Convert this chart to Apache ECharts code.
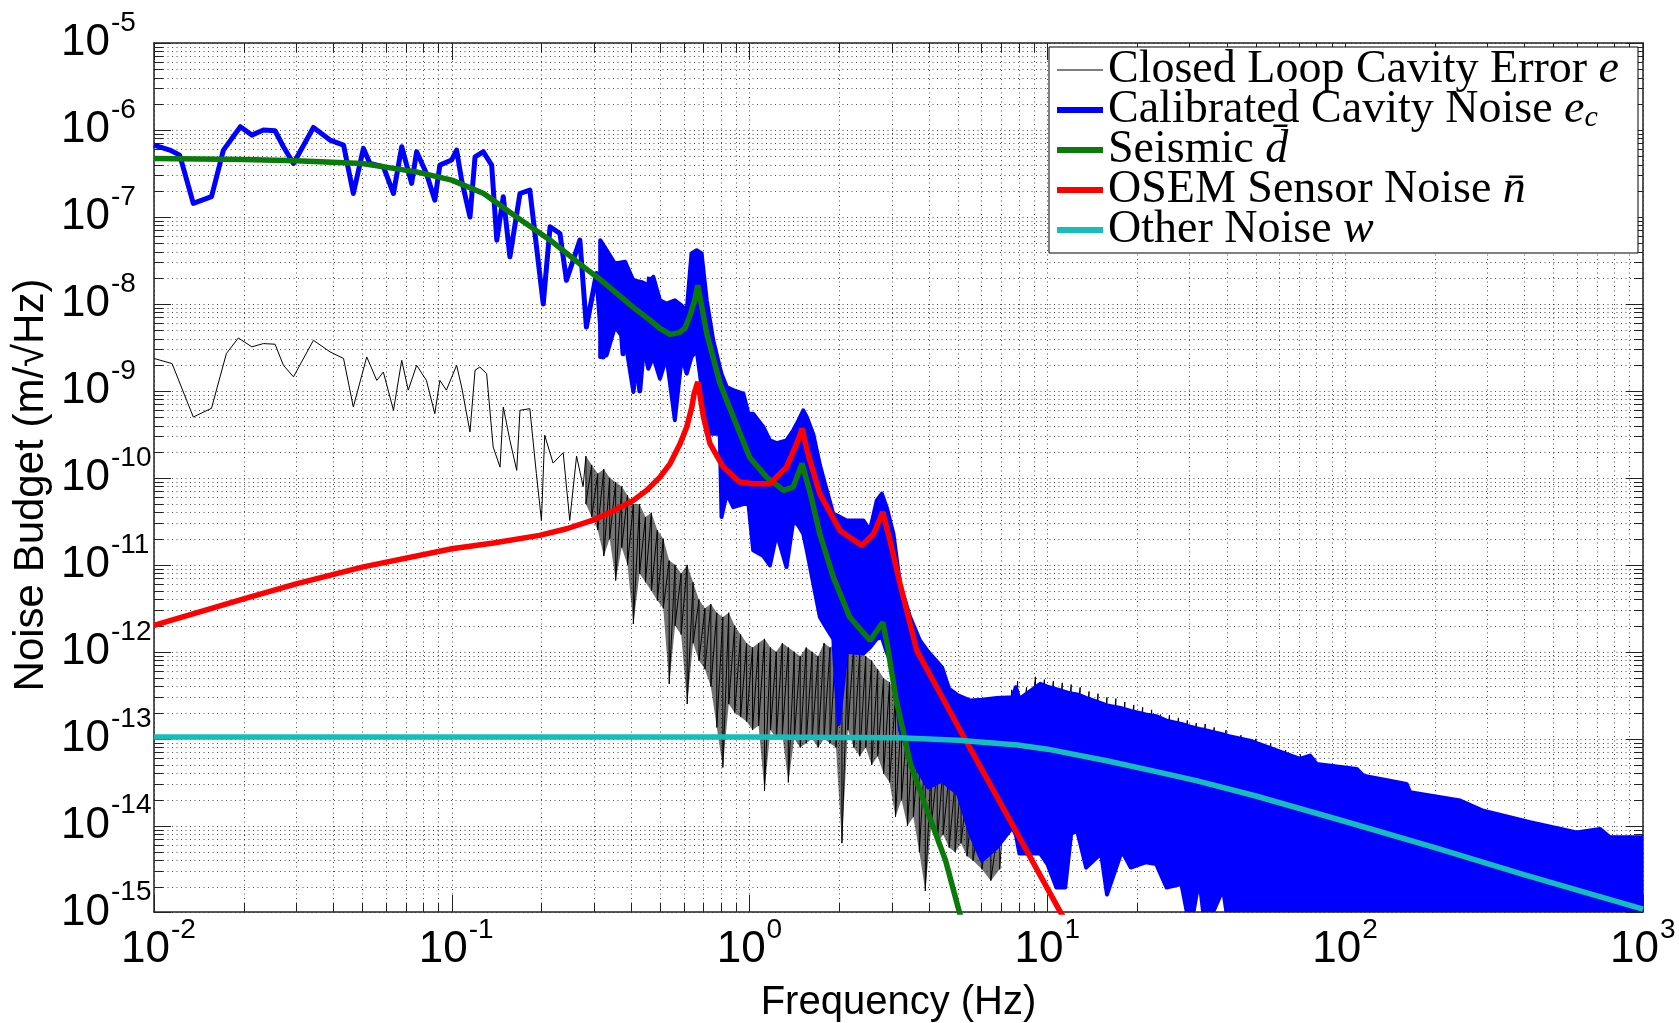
<!DOCTYPE html>
<html>
<head>
<meta charset="utf-8">
<title>Noise budget</title>
<script src="https://cdn.jsdelivr.net/npm/echarts@6/dist/echarts.min.js"></script>
<style>
  html, body { margin: 0; padding: 0; background: #fff; }
  #chart { width: 1679px; height: 1023px; }
</style>
</head>
<body>
<div id="chart"></div>
<script>
// frequency in Hz, amplitude in m/sqrt(Hz)

// calibrated cavity noise e_c, low-frequency part (thick line)
const ecLowFreq = [0.01, 0.0113, 0.0122, 0.01355, 0.0156, 0.0171, 0.0195, 0.0213, 0.0233, 0.0255, 0.0272, 0.0294, 0.0343, 0.039, 0.0433, 0.0467, 0.0505, 0.0531, 0.0589, 0.0637, 0.0679, 0.0733, 0.0762, 0.0822, 0.0877, 0.0912, 0.0998, 0.1038, 0.1079, 0.1151, 0.1197, 0.1276, 0.1361, 0.1416, 0.1489, 0.1567, 0.1694, 0.1828, 0.2028, 0.2138, 0.2307, 0.2427, 0.2692, 0.2831, 0.3062, 0.3221, 0.3573, 0.3758, 0.4055, 0.4276, 0.4613];
const ecLowVal = [6.7e-7, 5.87e-7, 5.14e-7, 1.43e-7, 1.71e-7, 5.87e-7, 1.09e-6, 8.73e-7, 9.98e-7, 9.79e-7, 6.41e-7, 4.12e-7, 1.07e-6, 7.66e-7, 6.7e-7, 1.86e-7, 6.14e-7, 4.12e-7, 3.78e-7, 1.86e-7, 6.41e-7, 2.43e-7, 5.62e-7, 3.16e-7, 1.56e-7, 3.94e-7, 4.51e-7, 5.87e-7, 2.65e-7, 1.0e-7, 4.92e-7, 5.62e-7, 3.94e-7, 5.41e-8, 1.71e-7, 3.48e-8, 1.86e-7, 2.04e-7, 1.0e-8, 7.71e-8, 6.46e-8, 1.87e-8, 5.41e-8, 5.43e-9, 2.24e-8, 2.45e-9, 2.92e-8, 2.67e-9, 1.87e-8, 1.0e-9, 2.05e-8];

// e_c above ~0.3 Hz: upper and lower edge of the noisy band
const ecBandFreq = [0.315, 0.331, 0.353, 0.382, 0.407, 0.435, 0.457, 0.475, 0.5, 0.526, 0.561, 0.592, 0.615, 0.638, 0.664, 0.69, 0.718, 0.755, 0.794, 0.805, 0.838, 0.881, 0.953, 0.991, 1.028, 1.112, 1.17, 1.233, 1.33, 1.403, 1.459, 1.514, 1.556, 1.637, 1.722, 1.791, 1.91, 1.991, 2.118, 2.41, 2.535, 2.673, 2.78, 2.884, 3.041, 3.199, 3.459, 3.733, 3.981, 4.426, 4.677, 5.012, 5.508, 6.026, 6.761, 7.621, 7.834, 8.054, 9.462, 10, 10.72, 11.48, 12.02, 12.59, 13.49, 15.14, 15.85, 17.78, 19.05, 21.38, 23.17, 25.12, 28.18, 30.2, 32.36, 33.88, 38.9, 40.74, 47.86, 70.47, 76.2, 80.2, 109.4, 115.1, 160.7, 165.2, 243.2, 291.1, 417.8, 598.4, 717.8, 774.5, 1000];
const ecBandTop = [5.41e-8, 4.15e-8, 2.91e-8, 3.05e-8, 1.87e-8, 1.78e-8, 1.64e-8, 2.05e-8, 1.10e-8, 1.01e-8, 1.10e-8, 9.55e-9, 8.47e-9, 3.80e-8, 4.15e-8, 3.80e-8, 1.10e-8, 3.82e-9, 1.88e-9, 1.58e-9, 1.11e-9, 1.02e-9, 9.29e-10, 5.47e-10, 5.47e-10, 3.85e-10, 2.70e-10, 2.51e-10, 2.70e-10, 3.55e-10, 4.59e-10, 5.98e-10, 5.01e-10, 3.16e-10, 1.41e-10, 8.57e-11, 3.87e-11, 3.63e-11, 3.24e-11, 3.24e-11, 2.49e-11, 5.51e-11, 6.58e-11, 4.61e-11, 2.28e-11, 6.05e-12, 2.51e-12, 1.35e-12, 1.0e-12, 6.65e-13, 3.75e-13, 3.16e-13, 2.75e-13, 2.82e-13, 2.95e-13, 3.01e-13, 3.92e-13, 2.88e-13, 4.28e-13, 3.98e-13, 3.72e-13, 3.47e-13, 3.31e-13, 3.24e-13, 2.95e-13, 2.57e-13, 2.41e-13, 2.24e-13, 2.09e-13, 1.91e-13, 1.82e-13, 1.62e-13, 1.48e-13, 1.38e-13, 1.30e-13, 1.26e-13, 1.12e-13, 1.07e-13, 9.53e-14, 5.86e-14, 6.41e-14, 5.14e-14, 4.50e-14, 3.77e-14, 3.03e-14, 2.43e-14, 1.95e-14, 1.49e-14, 1.10e-14, 8.39e-15, 9.18e-15, 7.36e-15, 7.36e-15];
const ecBandBot = [2.45e-9, 2.57e-9, 5.45e-9, 3.82e-9, 9.72e-10, 3.82e-9, 1.80e-9, 2.45e-9, 1.38e-9, 2.45e-9, 4.59e-10, 2.45e-9, 1.58e-9, 2.45e-9, 2.93e-9, 1.11e-9, 3.22e-10, 3.22e-10, 3.22e-10, 3.55e-11, 6.58e-11, 4.61e-11, 5.01e-11, 5.05e-11, 1.47e-11, 1.26e-11, 9.84e-12, 2.28e-11, 9.42e-12, 3.24e-11, 2.82e-11, 2.28e-11, 1.47e-11, 6.05e-12, 2.51e-12, 2.0e-12, 1.41e-12, 1.48e-13, 1.0e-12, 9.55e-13, 1.12e-12, 1.41e-12, 1.48e-12, 1.0e-12, 6.61e-13, 1.26e-13, 6.31e-14, 3.98e-14, 2.75e-14, 3.31e-14, 2.82e-14, 2.34e-14, 8.13e-15, 3.98e-15, 5.62e-15, 9.55e-15, 7.94e-15, 4.79e-15, 4.79e-15, 3.63e-15, 1.95e-15, 1.95e-15, 8.13e-15, 8.71e-15, 3.31e-15, 4.79e-15, 1.62e-15, 5.13e-15, 3.31e-15, 3.80e-15, 3.63e-15, 1.95e-15, 2.14e-15, 6.3e-16, 2.45e-15, 6.3e-16, 1.86e-15, 6.3e-16, 6.3e-16, 6.3e-16, 6.3e-16, 6.3e-16, 6.3e-16, 6.3e-16, 6.3e-16, 6.3e-16, 6.3e-16, 6.3e-16, 6.3e-16, 6.3e-16, 6.3e-16, 6.3e-16, 6.3e-16];

// closed loop cavity error e, low-frequency part (thin line)
const eLowFreq = [0.01, 0.0115, 0.01355, 0.0156, 0.0175, 0.0192, 0.0213, 0.0233, 0.0255, 0.0272, 0.0294, 0.0343, 0.039, 0.0433, 0.0467, 0.0518, 0.056, 0.0589, 0.0637, 0.0679, 0.0714, 0.0762, 0.0822, 0.0877, 0.0912, 0.0959, 0.1038, 0.1079, 0.1151, 0.1197, 0.1242, 0.1309, 0.1377, 0.1452, 0.1489, 0.1567, 0.1652, 0.1694, 0.1828, 0.1923, 0.2, 0.2051, 0.2188, 0.2366, 0.2489, 0.2624, 0.2761];
const eLowVal = [2.36e-9, 2.06e-9, 5.01e-10, 6.31e-10, 2.69e-9, 4.06e-9, 3.21e-9, 3.5e-9, 3.44e-9, 1.97e-9, 1.45e-9, 3.82e-9, 2.81e-9, 2.36e-9, 6.53e-10, 2.46e-9, 1.32e-9, 1.65e-9, 5.98e-10, 2.25e-9, 1.02e-9, 1.97e-9, 1.32e-9, 5.47e-10, 1.32e-9, 1.02e-9, 1.97e-9, 1.11e-9, 3.37e-10, 1.73e-9, 1.88e-9, 1.58e-9, 2.26e-10, 1.33e-10, 6.53e-10, 2.7e-10, 1.22e-10, 5.98e-10, 6.25e-10, 1.12e-10, 3.24e-11, 3.09e-10, 1.48e-10, 1.95e-10, 3.24e-11, 1.78e-10, 7.94e-11];

// e above ~0.28 Hz: top and bottom of each noise stroke
const eBandFreq = [0.282, 0.295, 0.309, 0.324, 0.339, 0.355, 0.372, 0.389, 0.407, 0.427, 0.447, 0.468, 0.49, 0.513, 0.537, 0.562, 0.589, 0.617, 0.646, 0.676, 0.708, 0.741, 0.776, 0.813, 0.851, 0.891, 0.933, 0.977, 1.023, 1.072, 1.122, 1.175, 1.23, 1.288, 1.349, 1.413, 1.479, 1.549, 1.622, 1.698, 1.778, 1.862, 1.95, 2.042, 2.138, 2.239, 2.344, 2.455, 2.57, 2.692, 2.818, 2.951, 3.09, 3.236, 3.388, 3.548, 3.715, 3.89, 4.074, 4.266, 4.467, 4.677, 4.898, 5.129, 5.37, 5.623, 6.026, 6.457, 6.918, 7.586, 7.943, 8.511, 9.12, 9.772, 10.47, 11.22, 12.02, 12.88, 13.8, 14.79, 15.85, 16.98, 18.2, 19.5, 20.89, 22.39, 23.99, 25.7, 27.54, 29.51, 31.62, 33.88, 36.31, 39.81, 44.67, 50.12, 56.23, 63.1, 70.79];
const eBandTop = [1.78e-10, 1.41e-10, 1.12e-10, 1.26e-10, 1.0e-10, 8.91e-11, 7.94e-11, 6.31e-11, 5.01e-11, 5.01e-11, 3.55e-11, 3.98e-11, 2.51e-11, 2.0e-11, 1.12e-11, 1.0e-11, 7.94e-12, 1.0e-11, 6.31e-12, 3.98e-12, 3.16e-12, 3.55e-12, 2.82e-12, 2.51e-12, 2.82e-12, 2.0e-12, 1.58e-12, 1.26e-12, 1.12e-12, 1.26e-12, 1.41e-12, 1.12e-12, 1.0e-12, 1.26e-12, 1.12e-12, 1.0e-12, 8.91e-13, 1.12e-12, 1.0e-12, 8.91e-13, 1.26e-12, 1.12e-12, 1.26e-12, 1.12e-12, 1.0e-12, 1.26e-12, 1.0e-12, 8.91e-13, 7.94e-13, 6.31e-13, 5.01e-13, 4.47e-13, 3.16e-13, 2.0e-13, 1.58e-13, 1.26e-13, 1.0e-13, 7.94e-14, 5.01e-14, 4.47e-14, 5.01e-14, 3.98e-14, 3.16e-14, 3.55e-14, 2.51e-14, 2.0e-14, 1.78e-14, 1.58e-14, 1.26e-14, 3.65e-13, 4.6e-13, 3.9e-13, 5.15e-13, 4.8e-13, 4.6e-13, 4.4e-13, 4.2e-13, 3.9e-13, 3.5e-13, 3.3e-13, 3.0e-13, 2.9e-13, 2.65e-13, 2.45e-13, 2.3e-13, 2.15e-13, 1.9e-13, 1.87e-13, 1.74e-13, 1.63e-13, 1.52e-13, 1.48e-13, 1.35e-13, 1.26e-13, 1.1e-13, 1.0e-13, 8.9e-14, 7.4e-14, 6.6e-14];
const eBandBot = [5.01e-11, 3.55e-11, 2.51e-11, 1.26e-11, 2.0e-11, 6.61e-12, 1.58e-11, 1.0e-11, 2.09e-12, 7.94e-12, 6.31e-12, 5.01e-12, 3.89e-12, 3.16e-12, 4.27e-13, 2.0e-12, 1.58e-12, 2.51e-13, 1.26e-12, 7.94e-13, 6.31e-13, 3.98e-13, 1.35e-13, 4.68e-14, 2.51e-13, 2.0e-13, 1.78e-13, 1.58e-13, 1.26e-13, 1.41e-13, 2.51e-14, 1.26e-13, 1.0e-13, 1.12e-13, 3.16e-14, 1.0e-13, 7.94e-14, 8.91e-14, 1.0e-13, 7.94e-14, 1.0e-13, 8.91e-14, 7.94e-14, 6.31e-15, 1.26e-13, 7.94e-14, 6.31e-14, 7.94e-14, 5.01e-14, 6.31e-14, 3.98e-14, 3.16e-14, 1.26e-14, 2.0e-14, 1.0e-14, 1.26e-14, 5.01e-15, 1.78e-15, 1.0e-14, 6.31e-15, 7.94e-15, 5.62e-15, 5.01e-15, 6.31e-15, 4.47e-15, 3.98e-15, 3.16e-15, 2.34e-15, 3.16e-15, 5.01e-14, 6.31e-14, 6.31e-14, 5.01e-14, 5.01e-14, 5.01e-14, 5.01e-14, 3.98e-14, 3.98e-14, 3.98e-14, 3.98e-14, 3.16e-14, 3.16e-14, 3.16e-14, 3.16e-14, 2.51e-14, 2.51e-14, 2.51e-14, 2.0e-14, 2.0e-14, 2.0e-14, 1.58e-14, 1.58e-14, 1.58e-14, 1.26e-14, 1.26e-14, 1.0e-14, 1.0e-14, 7.94e-15, 7.94e-15];

// seismic d
const seismicFreq = [0.01, 0.02, 0.03, 0.05, 0.076, 0.1, 0.128, 0.165, 0.214, 0.277, 0.315, 0.358, 0.407, 0.464, 0.5, 0.541, 0.58, 0.607, 0.631, 0.655, 0.67, 0.718, 0.796, 0.882, 1.0, 1.14, 1.3, 1.4, 1.5, 1.6, 1.72, 1.91, 2.17, 2.54, 2.8, 2.9, 3.11, 3.47, 3.98, 4.55, 5.07, 5.3];
const seismicVal = [4.7e-7, 4.58e-7, 4.42e-7, 4.12e-7, 3.3e-7, 2.65e-7, 1.86e-7, 1.0e-7, 5.41e-8, 2.67e-8, 1.91e-8, 1.32e-8, 9.12e-9, 6.46e-9, 5.25e-9, 4.47e-9, 4.68e-9, 5.25e-9, 7.41e-9, 1.12e-8, 1.64e-8, 4.56e-9, 1.21e-9, 5.01e-10, 1.73e-10, 1.02e-10, 7.18e-11, 7.83e-11, 1.46e-10, 6.58e-11, 2.28e-11, 7.23e-12, 2.5e-12, 1.35e-12, 2.19e-12, 1.2e-12, 2.75e-13, 5.13e-14, 1.38e-14, 3.98e-15, 1.0e-15, 6.0e-16];

// OSEM sensor noise n
const osemFreq = [0.01, 0.02, 0.03, 0.05, 0.1, 0.138, 0.197, 0.243, 0.296, 0.35, 0.407, 0.451, 0.5, 0.541, 0.584, 0.615, 0.64, 0.651, 0.67, 0.7, 0.736, 0.816, 0.925, 1.03, 1.17, 1.33, 1.44, 1.5, 1.57, 1.72, 2.01, 2.38, 2.61, 2.8, 2.96, 3.2, 3.64, 5.24, 7.3, 11.0, 12.0];
const osemVal = [2.01e-12, 4.07e-12, 6.05e-12, 9.42e-12, 1.53e-11, 1.78e-11, 2.18e-11, 2.6e-11, 3.24e-11, 4.2e-11, 5.51e-11, 7.18e-11, 1.02e-10, 1.46e-10, 2.47e-10, 3.85e-10, 6.53e-10, 9.3e-10, 1.27e-9, 5.01e-10, 2.47e-10, 1.33e-10, 8.95e-11, 8.57e-11, 8.57e-11, 1.33e-10, 2.47e-10, 3.68e-10, 1.9e-10, 6.58e-11, 2.49e-11, 1.67e-11, 2.28e-11, 4.05e-11, 1.91e-11, 6.05e-12, 1.04e-12, 1.05e-13, 1.35e-14, 1.05e-15, 6.5e-16];

// other noise w
const otherFreq = [0.01, 1, 3.16, 5.01, 7.94, 10, 15.8, 22.4, 31.6, 50.1, 100, 200, 398, 1000];
const otherVal = [1.05e-13, 1.05e-13, 1.03e-13, 9.6e-14, 8.5e-14, 7.6e-14, 5.6e-14, 4.3e-14, 3.3e-14, 2.2e-14, 1.12e-14, 5.6e-15, 2.75e-15, 1.1e-15];

// tick labels: 10 raised to these powers
const xTickVals = [0.01, 0.1, 1, 10, 100, 1000];
const xTickExp = ['-2', '-1', '0', '1', '2', '3'];
const yTickVals = [1e-15, 1e-14, 1e-13, 1e-12, 1e-11, 1e-10, 1e-9, 1e-8, 1e-7, 1e-6, 1e-5];
const yTickExp = ['-15', '-14', '-13', '-12', '-11', '-10', '-9', '-8', '-7', '-6', '-5'];

// axis ranges
const xRange = [0.01, 1000];
const yRange = [1.02e-15, 1e-5];

const names = ['Closed Loop Cavity Error e', 'Calibrated Cavity Noise e_c', 'Seismic d', 'OSEM Sensor Noise n', 'Other Noise w'];
const legendText = {
  'Closed Loop Cavity Error e': '{t|Closed Loop Cavity Error }{i|e}',
  'Calibrated Cavity Noise e_c': '{t|Calibrated Cavity Noise }{i|e}{sub|c}',
  'Seismic d': '{t|Seismic }{i|d\u0304}',
  'OSEM Sensor Noise n': '{t|OSEM Sensor Noise }{i|n\u0304}',
  'Other Noise w': '{t|Other Noise }{i|w}'
};

const sans = 'Liberation Sans';
const serif = 'Liberation Serif';
const axisColor = '#222';
const dotColor = 'rgba(0,0,0,0.7)';
const dots = [1, 3.5];

const pair = (fs, vs) => fs.map((f, i) => [f, vs[i]]);

// e: clean line, then one vertical stroke per noise sample
const eData = pair(eLowFreq, eLowVal);
eBandFreq.forEach((f, i) => { eData.push([f, eBandTop[i]], [f, eBandBot[i]]); });

// minor grid at 2..9 of each decade
const minorX = [];
const minorY = [];
for (let d = -2; d < 3; d++) for (let k = 2; k < 10; k++) minorX.push(k * Math.pow(10, d));
for (let d = -15; d < -5; d++) for (let k = 2; k < 10; k++) minorY.push(k * Math.pow(10, d));

function minorXItem(params, api) {
  const cs = params.coordSys;
  const x = Math.round(api.coord([api.value(0), 1e-10])[0]) + 0.5;
  const top = cs.y;
  const bottom = cs.y + cs.height;
  return {
    type: 'group',
    children: [
      { type: 'line', shape: { x1: x, y1: top, x2: x, y2: bottom }, style: { stroke: dotColor, lineWidth: 1, lineDash: dots } },
      { type: 'line', shape: { x1: x, y1: bottom, x2: x, y2: bottom - 9 }, style: { stroke: axisColor, lineWidth: 1 } },
      { type: 'line', shape: { x1: x, y1: top, x2: x, y2: top + 9 }, style: { stroke: axisColor, lineWidth: 1 } }
    ]
  };
}

function minorYItem(params, api) {
  const cs = params.coordSys;
  const y = Math.round(api.coord([1, api.value(1)])[1]) + 0.5;
  const left = cs.x;
  const right = cs.x + cs.width;
  return {
    type: 'group',
    children: [
      { type: 'line', shape: { x1: left, y1: y, x2: right, y2: y }, style: { stroke: dotColor, lineWidth: 1, lineDash: dots } },
      { type: 'line', shape: { x1: left, y1: y, x2: left + 9, y2: y }, style: { stroke: axisColor, lineWidth: 1 } },
      { type: 'line', shape: { x1: right, y1: y, x2: right - 9, y2: y }, style: { stroke: axisColor, lineWidth: 1 } }
    ]
  };
}

// "10" with a raised exponent, joined at (jx, y)
function powText(jx, y, exp, dy) {
  return [
    { type: 'text', x: jx, y: y, style: { text: '10', fontFamily: sans, fontSize: 44, fill: '#000', align: 'right', verticalAlign: 'middle' } },
    { type: 'text', x: jx + 1, y: y - dy, style: { text: exp, fontFamily: sans, fontSize: 28, fill: '#000', align: 'left', verticalAlign: 'middle' } }
  ];
}

function xLabelItem(params, api) {
  const cs = params.coordSys;
  const i = api.value(2);
  const x = api.coord([xTickVals[i], 1e-10])[0];
  return { type: 'group', children: powText(x + 16, cs.y + cs.height + 38, xTickExp[i], 20) };
}

function yLabelItem(params, api) {
  const i = api.value(2);
  const y = api.coord([1, yTickVals[i]])[1];
  return { type: 'group', children: powText(110, y, yTickExp[i], 20) };
}

// filled band between an upper and a lower edge
function bandPoints(api, fs, tops, bots, n) {
  const pts = [];
  for (let i = 0; i < n; i++) pts.push(api.coord([fs[i], tops[i]]));
  for (let i = n - 1; i >= 0; i--) pts.push(api.coord([fs[i], bots[i]]));
  return pts;
}

function ecBandItem(params, api) {
  return {
    type: 'polygon',
    shape: { points: bandPoints(api, ecBandFreq, ecBandTop, ecBandBot, ecBandFreq.length) },
    style: { fill: '#0000ff', stroke: '#0000ff', lineWidth: 4, lineJoin: 'round' }
  };
}

// dense core of e between 0.28 and 7 Hz
function eBandItem(params, api) {
  return {
    type: 'polygon',
    shape: { points: bandPoints(api, eBandFreq, eBandTop, eBandBot, 69) },
    style: { fill: 'rgba(0,0,0,0.55)' }
  };
}

const logAxis = (extra) => Object.assign({
  type: 'log',
  logBase: 10,
  axisLine: { show: true, onZero: false, lineStyle: { color: axisColor, width: 1.5 } },
  axisTick: { show: true, inside: true, length: 17, lineStyle: { color: axisColor, width: 1 } },
  axisLabel: { show: false },
  minorTick: { show: false },
  splitLine: { show: true, lineStyle: { color: dotColor, width: 1, type: dots } }
}, extra);

const chart = echarts.init(document.getElementById('chart'));

chart.setOption({
  animation: false,
  backgroundColor: '#fff',
  grid: { left: 154, top: 43, width: 1489, height: 869, containLabel: false, outerBoundsMode: 'none' },
  xAxis: [
    logAxis({
      min: xRange[0], max: xRange[1], position: 'bottom',
      name: 'Frequency (Hz)', nameLocation: 'middle', nameGap: 71, nameMoveOverlap: false,
      nameTextStyle: { fontFamily: sans, fontSize: 40, color: '#000' }
    }),
    logAxis({ min: xRange[0], max: xRange[1], position: 'top', splitLine: { show: false } })
  ],
  yAxis: [
    logAxis({
      min: yRange[0], max: yRange[1], position: 'left',
      name: 'Noise Budget (m/\u221AHz)', nameLocation: 'middle', nameGap: 102, nameMoveOverlap: false,
      nameTextStyle: { fontFamily: sans, fontSize: 42, color: '#000', padding: [0, 15, 0, 0] }
    }),
    logAxis({ min: yRange[0], max: yRange[1], position: 'right', splitLine: { show: false } })
  ],
  legend: {
    orient: 'vertical',
    left: 1049,
    top: 47,
    padding: [0, 19, 0, 8],
    itemWidth: 46,
    itemHeight: 6,
    itemGap: -6,
    selectedMode: false,
    backgroundColor: '#fff',
    borderColor: '#000',
    borderWidth: 1,
    borderRadius: 0,
    itemStyle: { borderWidth: 0 },
    formatter: name => legendText[name],
    textStyle: {
      fontFamily: serif, fontSize: 46, color: '#000',
      rich: {
        t: { fontFamily: serif, fontSize: 46, color: '#000' },
        i: { fontFamily: serif, fontStyle: 'italic', fontSize: 46, color: '#000' },
        sub: { fontFamily: serif, fontStyle: 'italic', fontSize: 30, verticalAlign: 'bottom', color: '#000' }
      }
    },
    data: [
      { name: names[0], icon: 'path://M0,0H46V1H0Z' },
      { name: names[1], icon: 'path://M0,0H46V6H0Z' },
      { name: names[2], icon: 'path://M0,0H46V6H0Z' },
      { name: names[3], icon: 'path://M0,0H46V6H0Z' },
      { name: names[4], icon: 'path://M0,0H46V6H0Z' }
    ]
  },
  series: [
    {
      type: 'custom', z: 1, silent: true, clip: false,
      renderItem: minorXItem,
      data: minorX.map(v => [v, 1e-10])
    },
    {
      type: 'custom', z: 1, silent: true, clip: false,
      renderItem: minorYItem,
      data: minorY.map(v => [1, v])
    },
    {
      type: 'custom', z: 7, silent: true, clip: false,
      renderItem: xLabelItem,
      data: xTickVals.map((v, i) => [v, 1e-10, i])
    },
    {
      type: 'custom', z: 7, silent: true, clip: false,
      renderItem: yLabelItem,
      data: yTickVals.map((v, i) => [1, v, i])
    },
    {
      name: names[0], type: 'custom', z: 2, clip: true, silent: true,
      itemStyle: { color: '#000' },
      renderItem: eBandItem,
      data: [[eBandFreq[0], eBandTop[0]]]
    },
    {
      name: names[0], type: 'line', z: 2, symbol: 'none', showSymbol: false,
      color: '#000',
      itemStyle: { color: '#000' },
      lineStyle: { color: '#000', width: 1 },
      data: eData
    },
    {
      name: names[1], type: 'custom', z: 3, clip: true,
      itemStyle: { color: '#0000ff' },
      renderItem: ecBandItem,
      data: [[ecBandFreq[0], ecBandTop[0]]]
    },
    {
      name: names[1], type: 'line', z: 3, symbol: 'none', showSymbol: false,
      color: '#0000ff',
      itemStyle: { color: '#0000ff' },
      lineStyle: { color: '#0000ff', width: 5, join: 'round' },
      data: pair(ecLowFreq, ecLowVal)
    },
    {
      name: names[2], type: 'line', z: 4, symbol: 'none', showSymbol: false,
      color: '#0a7a0a',
      itemStyle: { color: '#0a7a0a' },
      lineStyle: { color: '#0a7a0a', width: 5.5 },
      data: pair(seismicFreq, seismicVal)
    },
    {
      name: names[3], type: 'line', z: 5, symbol: 'none', showSymbol: false,
      color: '#ff0000',
      itemStyle: { color: '#ff0000' },
      lineStyle: { color: '#ff0000', width: 5.5 },
      data: pair(osemFreq, osemVal)
    },
    {
      name: names[4], type: 'line', z: 6, symbol: 'none', showSymbol: false,
      color: '#17bdbb',
      itemStyle: { color: '#17bdbb' },
      lineStyle: { color: '#17bdbb', width: 5.5 },
      data: pair(otherFreq, otherVal)
    }
  ]
});
</script>
</body>
</html>
